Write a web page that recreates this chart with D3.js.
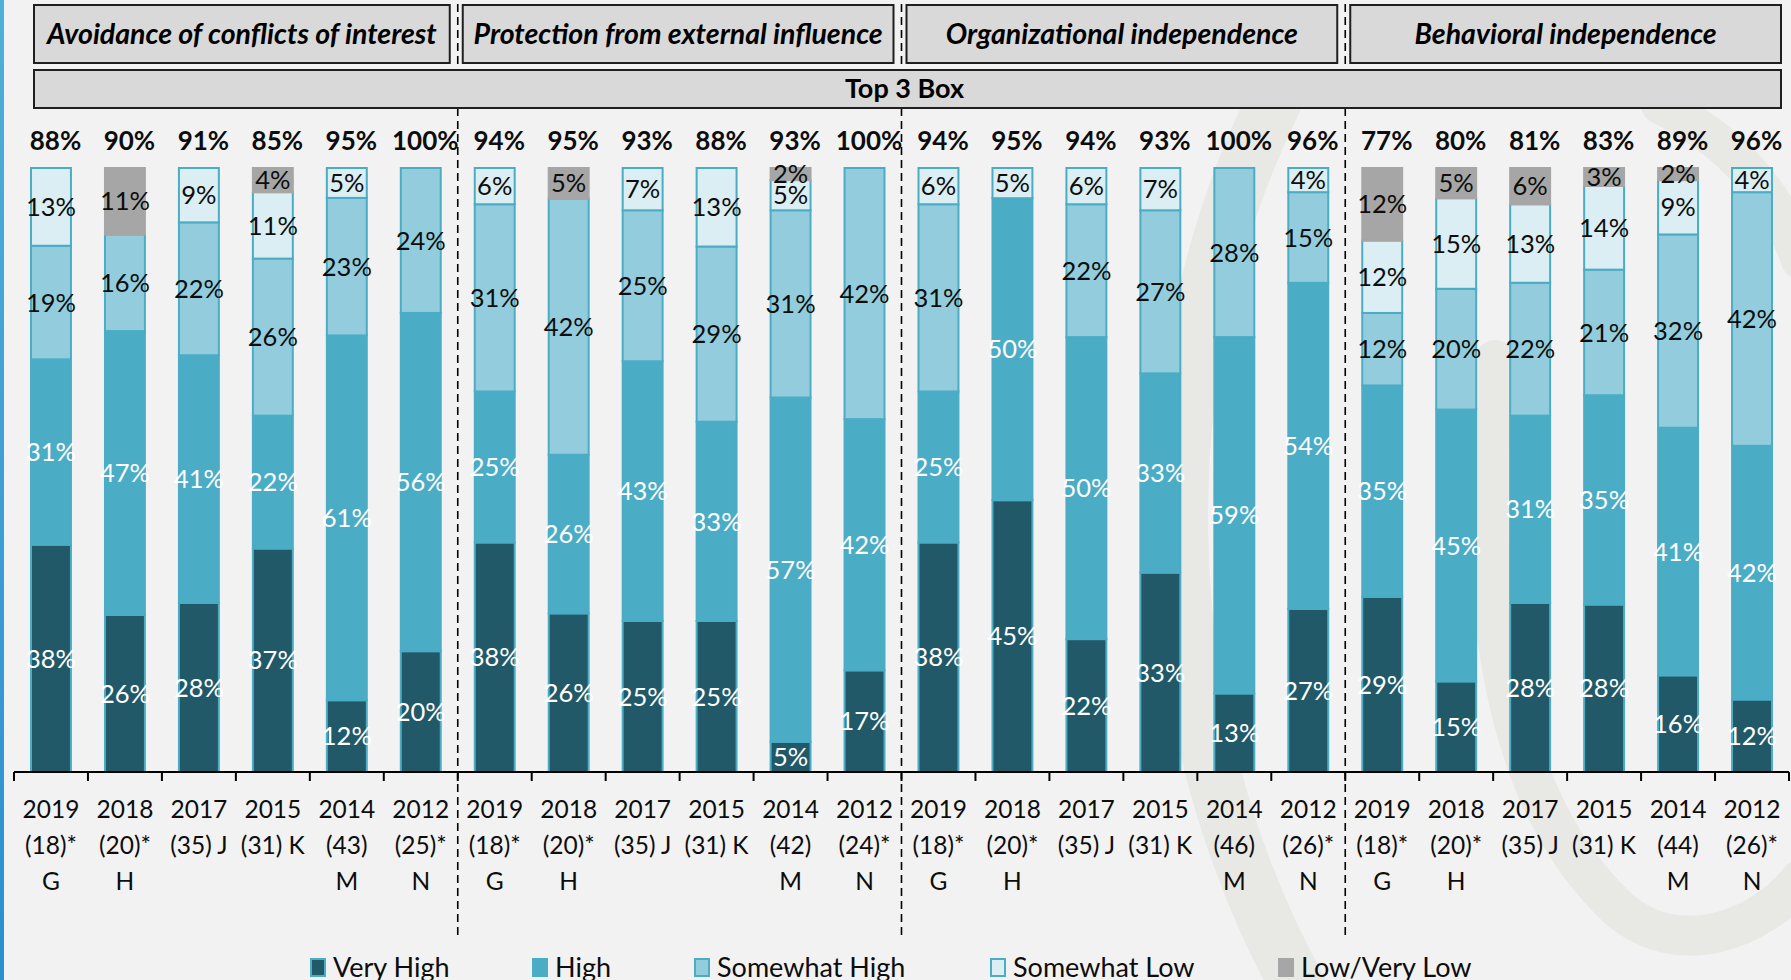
<!DOCTYPE html>
<html><head><meta charset="utf-8">
<script src="https://cdn.jsdelivr.net/npm/d3@7"></script>
<style>
html,body{margin:0;padding:0;background:#F2F2F2;}
svg{display:block;}
text{font-family:Lato,"Open Sans",sans-serif;}
</style></head><body>
<svg id="chart" width="1791" height="980"></svg>
<script>
// ---------------- data ----------------
const groups = ["Avoidance of conflicts of interest","Protection from external influence","Organizational independence","Behavioral independence"];
const years = ["2019","2018","2017","2015","2014","2012"];
const sampleSizes = [
  ["(18)*","(20)*","(35) J","(31) K","(43)","(25)*"],
  ["(18)*","(20)*","(35) J","(31) K","(42)","(24)*"],
  ["(18)*","(20)*","(35) J","(31) K","(46)","(26)*"],
  ["(18)*","(20)*","(35) J","(31) K","(44)","(26)*"]
];
const letters = ["G","H","","","M","N"];
const seriesNames = ["Very High","High","Somewhat High","Somewhat Low","Low/Very Low"];
const veryHigh     = [38,26,28,37,12,20, 38,26,25,25, 5,17, 38,45,22,33,13,27, 29,15,28,28,16,12];
const high         = [31,47,41,22,61,56, 25,26,43,33,57,42, 25,50,50,33,59,54, 35,45,31,35,41,42];
const somewhatHigh = [19,16,22,26,23,24, 31,42,25,29,31,42, 31, 0,22,27,28,15, 12,20,22,21,32,42];
const somewhatLow  = [13, 0, 9,11, 5, 0,  6, 0, 7,13, 5, 0,  6, 5, 6, 7, 0, 4, 12,15,13,14, 9, 4];
const lowVeryLow   = [ 0,11, 0, 4, 0, 0,  0, 5, 0, 0, 2, 0,  0, 0, 0, 0, 0, 0, 12, 5, 6, 3, 2, 0];
const top3Box      = [88,90,91,85,95,100, 94,95,93,88,93,100, 94,95,94,93,100,96, 77,80,81,83,89,96];
const topBoxTitle = "Top 3 Box";

// ---------------- styles ----------------
const fills = {"Very High":"#215968","High":"#4BACC6","Somewhat High":"#93CDDD","Somewhat Low":"#DAEEF3","Low/Very Low":"#A6A6A6"};
const strokes = {"Very High":"#4BACC6","High":"#4BACC6","Somewhat High":"#4BACC6","Somewhat Low":"#4BACC6","Low/Very Low":"#A6A6A6"};
const labelColors = {"Very High":"#FFFFFF","High":"#FFFFFF","Somewhat High":"#0D0D0D","Somewhat Low":"#0D0D0D","Low/Very Low":"#0D0D0D"};
const legendX = [310, 532, 694, 990, 1278];
const seriesArrays = [veryHigh, high, somewhatHigh, somewhatLow, lowVeryLow];

const rows = [];
groups.forEach((g, gi) => {
  years.forEach((yr, yi) => {
    const i = gi * years.length + yi;
    const r = {id: gi + "-" + yi, gi, yi, idx: i};
    seriesNames.forEach((s, si) => r[s] = seriesArrays[si][i]);
    rows.push(r);
  });
});

const svg = d3.select("#chart");
const W = 1791, H = 980;

// background decorations
const defs = svg.append("defs");
const lg = defs.append("linearGradient").attr("id","edge").attr("x1",0).attr("x2",0).attr("y1",0).attr("y2",1);
lg.append("stop").attr("offset","0%").attr("stop-color","#4FB0D8");
lg.append("stop").attr("offset","100%").attr("stop-color","#2B8FD0");
svg.append("rect").attr("x",0).attr("y",0).attr("width",W).attr("height",H).attr("fill","#F2F2F2");
const wm = svg.append("g").attr("fill","none").attr("stroke","#E8E8E4").attr("stroke-linecap","round");
wm.append("path").attr("d","M1275,100 C1150,350 1140,700 1300,990").attr("stroke-width",55);
wm.append("path").attr("d","M1495,360 C1475,600 1500,800 1620,910 C1680,960 1760,930 1800,880").attr("stroke-width",40);
wm.append("path").attr("d","M1660,105 C1730,140 1775,190 1800,260").attr("stroke-width",38);
svg.append("rect").attr("x",0).attr("y",0).attr("width",4).attr("height",H).attr("fill","url(#edge)");

// scales
const x = d3.scaleBand().domain(rows.map(r => r.id)).range([14, 1789]).paddingInner(0.46).paddingOuter(0.23);
const y = d3.scaleLinear().domain([0, 1]).range([772, 168]);
const step = x.step();
const x0 = x.range()[0];
const boundary = i => x0 + i * step;

// dashed group separators
const sepIdx = d3.range(1, groups.length).map(g => g * years.length);
svg.append("g").selectAll("line").data(sepIdx).join("line")
  .attr("x1", d => boundary(d)).attr("x2", d => boundary(d))
  .attr("y1", 4).attr("y2", 940)
  .attr("stroke", "#000").attr("stroke-width", 1.6).attr("stroke-dasharray", "8,5");

// header boxes
const hdr = svg.append("g");
groups.forEach((g, gi) => {
  const left = gi === 0 ? 34 : boundary(gi * years.length) + 5;
  const right = gi === groups.length - 1 ? 1781 : boundary((gi + 1) * years.length) - 8;
  hdr.append("rect").attr("x", left).attr("y", 5).attr("width", right - left).attr("height", 58)
    .attr("fill", "#D9D9D9").attr("stroke", "#1F1F1F").attr("stroke-width", 2);
  hdr.append("text").attr("x", (left + right) / 2).attr("y", 44).attr("text-anchor", "middle")
    .attr("font-size", 28.5).attr("font-weight", "bold").attr("font-style", "italic").attr("fill", "#000")
    .text(g);
});
hdr.append("rect").attr("x", 34).attr("y", 70).attr("width", 1781 - 34).attr("height", 38)
  .attr("fill", "#D9D9D9").attr("stroke", "#1F1F1F").attr("stroke-width", 2);
hdr.append("text").attr("x", (34 + 1781) / 2 - 3).attr("y", 98).attr("text-anchor", "middle")
  .attr("font-size", 27).attr("font-weight", "bold").attr("fill", "#000").text(topBoxTitle);

// stacked bars
const stack = d3.stack().keys(seriesNames).offset(d3.stackOffsetExpand);
const layers = stack(rows);
const barG = svg.append("g");
layers.forEach(layer => {
  const key = layer.key;
  barG.append("g").selectAll("rect")
    .data(layer.filter(d => d.data[key] > 0)).join("rect")
    .attr("x", d => x(d.data.id)).attr("width", x.bandwidth())
    .attr("y", d => y(d[1])).attr("height", d => y(d[0]) - y(d[1]))
    .attr("fill", fills[key]).attr("stroke", strokes[key]).attr("stroke-width", 2);
});
layers.forEach(layer => {
  const key = layer.key;
  barG.append("g").selectAll("text")
    .data(layer.filter(d => d.data[key] > 0)).join("text")
    .attr("x", d => x(d.data.id) + x.bandwidth() / 2)
    .attr("y", d => (y(d[0]) + y(d[1])) / 2)
    .attr("dy", "0.36em")
    .attr("text-anchor", "middle").attr("font-size", 25.5).attr("fill", labelColors[key])
    .text(d => d.data[key] + "%");
});

// top 3 box labels
svg.append("g").selectAll("text").data(rows).join("text")
  .attr("x", d => x(d.id) + x.bandwidth() / 2 + 4.5).attr("y", 150)
  .attr("text-anchor", "middle").attr("font-size", 26).attr("font-weight", "bold").attr("fill", "#0D0D0D")
  .text(d => top3Box[d.idx] + "%");

// axis
const ax = svg.append("g");
ax.append("line").attr("x1", boundary(0)).attr("x2", boundary(rows.length))
  .attr("y1", y(0)).attr("y2", y(0)).attr("stroke", "#000").attr("stroke-width", 2);
ax.selectAll("line.tick").data(d3.range(rows.length + 1)).join("line").attr("class","tick")
  .attr("x1", d => boundary(d)).attr("x2", d => boundary(d))
  .attr("y1", y(0)).attr("y2", y(0) + 9).attr("stroke", "#000").attr("stroke-width", 2);
const catLabels = ax.append("g").selectAll("text").data(rows).join("text")
  .attr("text-anchor", "middle").attr("font-size", 24.5).attr("fill", "#0D0D0D");
catLabels.append("tspan").attr("x", d => x(d.id) + x.bandwidth() / 2).attr("y", 818).text(d => years[d.yi]);
catLabels.append("tspan").attr("x", d => x(d.id) + x.bandwidth() / 2).attr("y", 854).text(d => sampleSizes[d.gi][d.yi]);
catLabels.append("tspan").attr("x", d => x(d.id) + x.bandwidth() / 2).attr("y", 890).text(d => letters[d.yi]);

// legend
const leg = svg.append("g");
seriesNames.forEach((s, si) => {
  const lx = legendX[si];
  leg.append("rect").attr("x", lx + 1).attr("y", 959).attr("width", 14).attr("height", 17)
    .attr("fill", fills[s]).attr("stroke", strokes[s]).attr("stroke-width", 2);
  leg.append("text").attr("x", lx + 23).attr("y", 977).attr("font-size", 27).attr("fill", "#0D0D0D").text(s);
});
</script>
</body></html>
